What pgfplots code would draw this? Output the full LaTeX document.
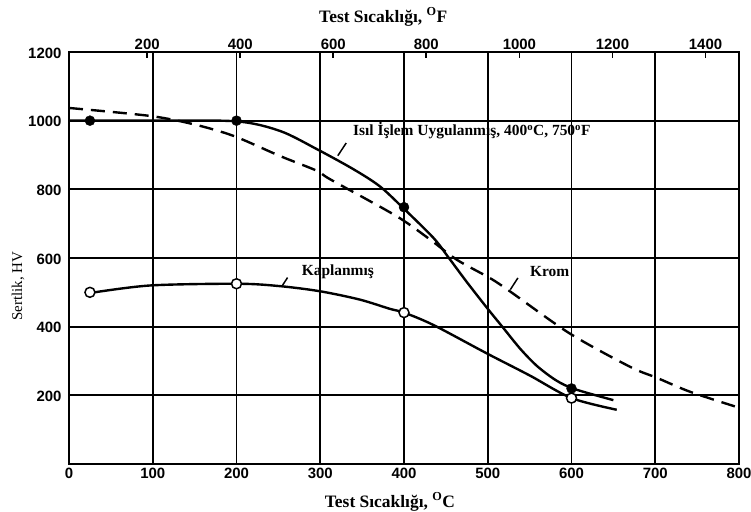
\documentclass[border=0pt]{standalone}
\usepackage{fontspec}
\setmainfont{Liberation Serif}
\newfontfamily\tickfont{Liberation Sans}
\usepackage{pgfplots}
\pgfplotsset{compat=1.18}

\pgfplotstableread{
x y
0 1000
100 1000
200 998
252 970
296 917
340 858
371 809
398 748
435 659
453 602
475 530
499 455
519 395
539 335
559 285
582 243
604 218
650 186
}\heattreated

\pgfplotstableread{
x y
25 498
97 520
202 525
252 518
300 503
347 479
383 452
400 441
435 405
499 322
550 258
600 192
654 158
}\coated

\pgfplotstableread{
x y
0 1037
96 1014
148 990
196 956
252 897
296 854
312 829
391 722
431 654
463 595
503 541
527 502
598 380
670 283
702 251
742 210
800 164
}\chrome

\pgfplotstableread{
x y
25 1000
200 1000
400 748
600 220
}\htmarks

\pgfplotstableread{
x y
25 500
200 525
400 441
600 192
}\coatmarks

\begin{document}
\begin{tikzpicture}
\path[use as bounding box] (0,0) rectangle (751bp,512bp);
\begin{axis}[
  at={(69bp,48bp)}, anchor=south west,
  scale only axis, width=670bp, height=412bp,
  xmin=0, xmax=800, ymin=0, ymax=1200,
  xtick={0,100,...,800}, ytick={200,400,...,1200},
  grid=major, major grid style={black, line width=1.7pt},
  axis line style={line width=2.4pt},
  major tick length=0pt,
  /pgf/number format/assume math mode=true,
  /pgf/number format/1000 sep={},
  ticklabel style={font=\tickfont\bfseries\fontsize{15}{15}\selectfont},
  xticklabel style={yshift=-1bp},
  yticklabel style={xshift=-4bp, yshift=-1bp},
  xlabel={Test Sıcaklığı, \textsuperscript{O}C},
  ylabel={Sertlik, HV},
  every axis x label/.style={at={(axis description cs:0.479,0)}, anchor=center, yshift=-38bp, font=\bfseries\fontsize{17.5}{17.5}\selectfont},
  every axis y label/.style={at={(axis description cs:0,0.432)}, anchor=center, rotate=90, yshift=51bp, font=\fontsize{15}{15}\selectfont},
]
\addplot[black, line width=2.4pt, smooth] table {\heattreated};
\addplot[black, line width=2.4pt, smooth] table {\coated};
\addplot[black, line width=2.4pt, smooth, dash pattern=on 14bp off 8bp] table {\chrome};
\addplot[only marks, mark=*, mark size=5bp, mark options={fill=black, draw=black}] table {\htmarks};
\addplot[only marks, mark=*, mark size=5bp, mark options={fill=white, draw=black, line width=1.5pt}] table {\coatmarks};
\node[font=\bfseries\fontsize{15.5}{15.5}\selectfont] at (axis cs:481,970) {Isıl İşlem Uygulanmış, 400\textsuperscript{o}C, 750\textsuperscript{o}F};
\draw[line width=1.5pt] (axis cs:331,935) -- (axis cs:321,898);
\node[font=\bfseries\fontsize{15.5}{15.5}\selectfont] at (axis cs:321,561) {Kaplanmış};
\draw[line width=1.5pt] (axis cs:261,543) -- (axis cs:254,517);
\node[font=\bfseries\fontsize{15.5}{15.5}\selectfont] at (axis cs:574,561) {Krom};
\draw[line width=1.5pt] (axis cs:536,542) -- (axis cs:527,508);
\end{axis}
\begin{axis}[
  at={(69bp,48bp)}, anchor=south west,
  scale only axis, width=670bp, height=412bp,
  xmin=32, xmax=1472, ymin=0, ymax=1200,
  xtick pos=right, ytick=\empty,
  xtick={200,400,...,1400},
  tick align=inside, major tick length=6bp,
  tick style={line width=1.7pt, black},
  /pgf/number format/assume math mode=true,
  /pgf/number format/1000 sep={},
  ticklabel style={font=\tickfont\bfseries\fontsize{15}{15}\selectfont},
  xticklabel style={yshift=-1bp},
  axis line style={line width=2.4pt},
  xlabel={Test Sıcaklığı, \textsuperscript{O}F},
  every axis x label/.style={at={(axis description cs:0.469,1)}, anchor=center, yshift=35bp, font=\bfseries\fontsize{17.5}{17.5}\selectfont},
]
\end{axis}
\end{tikzpicture}
\end{document}
